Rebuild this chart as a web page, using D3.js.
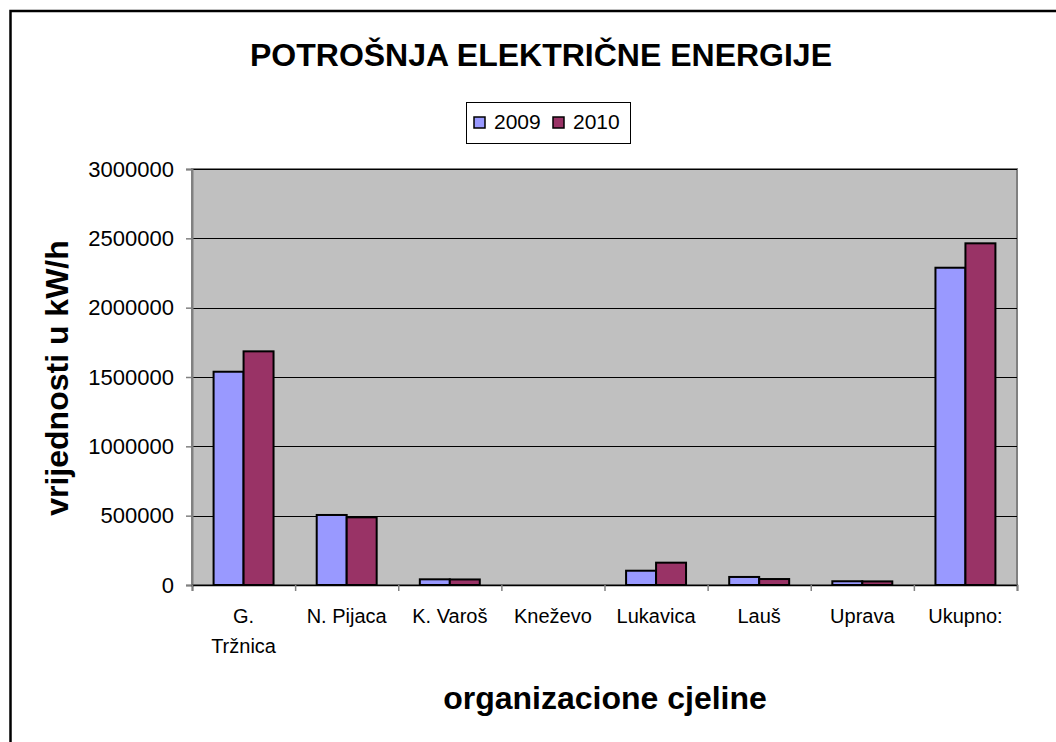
<!DOCTYPE html>
<html lang="en">
<head>
<meta charset="UTF-8">
<title>Potrošnja električne energije</title>
<script src="https://cdn.jsdelivr.net/npm/d3@7"></script>
<style>
  body { margin: 0; background: #fff; }
  svg { display: block; font-family: "Liberation Sans", Arial, sans-serif; }
</style>
</head>
<body>
<div id="chart"></div>
<script>
// data
const categories = ["G. Tržnica", "N. Pijaca", "K. Varoš", "Kneževo", "Lukavica", "Lauš", "Uprava", "Ukupno:"];
const years = ["2009", "2010"];
const values2009 = [1538000, 505000, 41000, 0, 103000, 58000, 27000, 2288000];
const values2010 = [1685000, 488000, 40000, 0, 161000, 43000, 26000, 2464000];
const yTicks = [0, 500000, 1000000, 1500000, 2000000, 2500000, 3000000];
const colors = { "2009": "#9999FF", "2010": "#993366" };

const W = 1056, H = 742;
const plot = { left: 192, top: 169, right: 1017, bottom: 585 };

const svg = d3.select("#chart").append("svg")
  .attr("width", W).attr("height", H);

// outer chart frame (cut off at right and bottom)
svg.append("rect")
  .attr("x", 10.5).attr("y", 11)
  .attr("width", W).attr("height", H)
  .attr("fill", "#fff").attr("stroke", "#000").attr("stroke-width", 2.5);

// title
svg.append("text")
  .attr("x", 541).attr("y", 66)
  .attr("text-anchor", "middle")
  .style("font-size", "32px").style("font-weight", "bold")
  .text("POTROŠNJA ELEKTRIČNE ENERGIJE");

// scales
const x0 = d3.scaleBand().domain(categories).range([plot.left, plot.right]);
const x1 = d3.scaleBand().domain(years).range([0, x0.bandwidth()]).paddingOuter(0.72);
const y = d3.scaleLinear().domain([0, 3000000]).range([plot.bottom, plot.top]);

// plot area
svg.append("rect")
  .attr("x", plot.left).attr("y", plot.top)
  .attr("width", plot.right - plot.left).attr("height", plot.bottom - plot.top)
  .attr("fill", "#C0C0C0").attr("stroke", "#808080").attr("stroke-width", 2);

// gridlines
svg.append("g")
  .selectAll("line")
  .data(yTicks.filter(d => d > 0))
  .enter().append("line")
  .attr("x1", plot.left).attr("x2", plot.right)
  .attr("y1", d => Math.round(y(d)) + 0.5).attr("y2", d => Math.round(y(d)) + 0.5)
  .attr("stroke", "#000").attr("stroke-width", 1);

// bars
const rows = categories.map((c, i) => ({ cat: c, vals: [
  { year: "2009", v: values2009[i] },
  { year: "2010", v: values2010[i] }
] }));

const groups = svg.append("g").selectAll("g")
  .data(rows)
  .enter().append("g")
  .attr("transform", d => `translate(${x0(d.cat)},0)`);

groups.selectAll("rect")
  .data(d => d.vals.filter(e => e.v > 0))
  .enter().append("rect")
  .attr("x", d => x1(d.year))
  .attr("y", d => y(d.v))
  .attr("width", x1.bandwidth())
  .attr("height", d => y(0) - y(d.v))
  .attr("fill", d => colors[d.year])
  .attr("stroke", "#000").attr("stroke-width", 2);

// y axis
const yAxis = svg.append("g")
  .attr("transform", `translate(${plot.left},0)`)
  .call(d3.axisLeft(y).tickValues(yTicks).tickSize(6).tickPadding(12).tickFormat(d3.format("d")));
yAxis.select(".domain").attr("stroke", "#808080").attr("stroke-width", 2);
yAxis.selectAll(".tick line").attr("stroke", "#808080").attr("stroke-width", 1.5);
yAxis.selectAll(".tick text").style("font-size", "22px").attr("fill", "#000")
  .style("font-family", "'Liberation Sans', Arial, sans-serif");

// x axis: ticks at category boundaries
const xb = d3.scaleLinear().domain([0, categories.length]).range([plot.left, plot.right]);
const xAxis = svg.append("g")
  .attr("transform", `translate(0,${plot.bottom})`)
  .call(d3.axisBottom(xb).tickValues(d3.range(categories.length + 1)).tickSize(6).tickFormat(""));
xAxis.select(".domain").attr("stroke", "#000").attr("stroke-width", 1.5);
xAxis.selectAll(".tick line").attr("stroke", "#808080").attr("stroke-width", 1.5);

// category labels
const catLabels = svg.append("g").selectAll("text")
  .data(categories)
  .enter().append("text")
  .attr("x", d => x0(d) + x0.bandwidth() / 2)
  .attr("y", 623)
  .attr("text-anchor", "middle")
  .style("font-size", "20px");
catLabels.each(function (d) {
  const t = d3.select(this);
  if (d === "G. Tržnica") {
    t.append("tspan").attr("x", x0(d) + x0.bandwidth() / 2).text("G.");
    t.append("tspan").attr("x", x0(d) + x0.bandwidth() / 2).attr("dy", 30).text("Tržnica");
  } else {
    t.text(d);
  }
});

// axis titles
svg.append("text")
  .attr("x", 605).attr("y", 709)
  .attr("text-anchor", "middle")
  .style("font-size", "32px").style("font-weight", "bold")
  .text("organizacione cjeline");

svg.append("text")
  .attr("transform", "translate(68,378) rotate(-90)")
  .attr("text-anchor", "middle")
  .style("font-size", "32px").style("font-weight", "bold")
  .text("vrijednosti u kW/h");

// legend
const legend = svg.append("g").attr("transform", "translate(466,102)");
legend.append("rect")
  .attr("x", 0.5).attr("y", 0.5).attr("width", 164).attr("height", 41)
  .attr("fill", "#fff").attr("stroke", "#000").attr("stroke-width", 1);
const legendX = [8, 87];
years.forEach((yr, i) => {
  legend.append("rect")
    .attr("x", legendX[i]).attr("y", 15)
    .attr("width", 11).attr("height", 11)
    .attr("fill", colors[yr]).attr("stroke", "#000").attr("stroke-width", 1.5);
  legend.append("text")
    .attr("x", legendX[i] + 20).attr("y", 27)
    .style("font-size", "21px")
    .text(yr);
});
</script>
</body>
</html>
